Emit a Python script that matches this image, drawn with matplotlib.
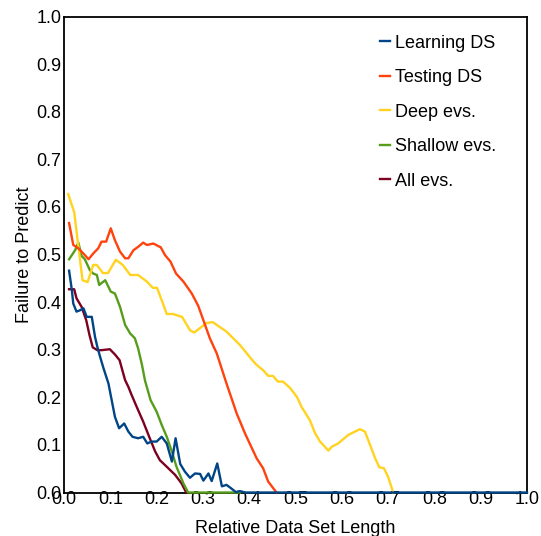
import matplotlib
matplotlib.use("Agg")
import matplotlib.pyplot as plt

plt.rcParams['font.family'] = ['Liberation Sans', 'DejaVu Sans']

# ---- data ----
learning_x = [0.011, 0.017, 0.020, 0.027, 0.035, 0.042, 0.049, 0.060, 0.067, 0.072, 0.078, 0.085,
              0.096, 0.103, 0.110, 0.119, 0.130, 0.139, 0.148, 0.160, 0.171, 0.180, 0.189, 0.200,
              0.211, 0.222, 0.233, 0.241, 0.251, 0.261, 0.272, 0.283, 0.294, 0.301, 0.312, 0.319,
              0.331, 0.341, 0.351, 0.362, 0.371, 0.380, 0.391, 1.0]
learning_y = [0.466, 0.425, 0.397, 0.380, 0.383, 0.387, 0.369, 0.369, 0.327, 0.306, 0.285, 0.262,
              0.229, 0.194, 0.159, 0.135, 0.145, 0.128, 0.117, 0.114, 0.117, 0.103, 0.107, 0.107,
              0.117, 0.103, 0.065, 0.114, 0.060, 0.044, 0.031, 0.040, 0.039, 0.025, 0.040, 0.024,
              0.061, 0.013, 0.016, 0.008, 0.001, 0.003, 0.0, 0.0]

testing_x = [0.011, 0.020, 0.031, 0.042, 0.053, 0.063, 0.074, 0.081, 0.091, 0.101, 0.110, 0.121,
             0.132, 0.139, 0.150, 0.160, 0.171, 0.179, 0.193, 0.209, 0.218, 0.230, 0.242, 0.258,
             0.276, 0.290, 0.301, 0.315, 0.330, 0.351, 0.373, 0.391, 0.402, 0.416, 0.430, 0.441,
             0.459]
testing_y = [0.566, 0.520, 0.513, 0.502, 0.490, 0.502, 0.513, 0.527, 0.527, 0.555, 0.530, 0.506,
             0.492, 0.492, 0.509, 0.516, 0.525, 0.520, 0.523, 0.515, 0.499, 0.485, 0.460, 0.443,
             0.418, 0.392, 0.362, 0.324, 0.292, 0.229, 0.166, 0.124, 0.101, 0.072, 0.051, 0.023,
             0.0]

deep_x = [0.009, 0.022, 0.040, 0.051, 0.063, 0.071, 0.084, 0.095, 0.112, 0.127, 0.143, 0.160,
          0.179, 0.192, 0.201, 0.222, 0.235, 0.255, 0.272, 0.281, 0.308, 0.321, 0.351, 0.380,
          0.405, 0.416, 0.430, 0.441, 0.451, 0.462, 0.473, 0.488, 0.503, 0.513, 0.531, 0.542,
          0.553, 0.571, 0.578, 0.592, 0.614, 0.639, 0.650, 0.661, 0.672, 0.681, 0.691, 0.700,
          0.711]
deep_y = [0.627, 0.589, 0.446, 0.442, 0.478, 0.478, 0.461, 0.461, 0.489, 0.478, 0.457, 0.457,
          0.443, 0.430, 0.430, 0.375, 0.375, 0.369, 0.341, 0.336, 0.356, 0.358, 0.338, 0.310,
          0.280, 0.268, 0.257, 0.245, 0.245, 0.233, 0.233, 0.220, 0.201, 0.180, 0.152, 0.125,
          0.107, 0.088, 0.096, 0.103, 0.121, 0.133, 0.128, 0.100, 0.072, 0.053, 0.051, 0.033,
          0.0]

shallow_x = [0.011, 0.024, 0.031, 0.038, 0.045, 0.056, 0.063, 0.071, 0.076, 0.089, 0.101, 0.110,
             0.121, 0.132, 0.143, 0.153, 0.160, 0.168, 0.175, 0.187, 0.200, 0.211, 0.222, 0.233,
             0.243, 0.258, 0.268, 0.380]
shallow_y = [0.490, 0.509, 0.525, 0.497, 0.490, 0.467, 0.460, 0.457, 0.436, 0.446, 0.422, 0.418,
             0.390, 0.352, 0.334, 0.324, 0.303, 0.270, 0.235, 0.194, 0.170, 0.142, 0.117, 0.086,
             0.054, 0.019, 0.0, 0.0]

all_x = [0.011, 0.022, 0.027, 0.038, 0.048, 0.055, 0.062, 0.072, 0.081, 0.099, 0.110, 0.120,
         0.132, 0.139, 0.146, 0.157, 0.171, 0.184, 0.197, 0.207, 0.222, 0.240, 0.254, 0.264]
all_y = [0.427, 0.427, 0.408, 0.390, 0.362, 0.331, 0.305, 0.299, 0.299, 0.301, 0.290, 0.278,
         0.236, 0.222, 0.205, 0.180, 0.149, 0.117, 0.086, 0.068, 0.054, 0.037, 0.019, 0.0]

labels = ["Learning DS", "Testing DS", "Deep evs.", "Shallow evs.", "All evs."]
colors = ["#004586", "#ff420e", "#ffd320", "#579d1c", "#7e0021"]
xticks = [0.0, 0.1, 0.2, 0.3, 0.4, 0.5, 0.6, 0.7, 0.8, 0.9, 1.0]
yticks = [0.0, 0.1, 0.2, 0.3, 0.4, 0.5, 0.6, 0.7, 0.8, 0.9, 1.0]

series = [(learning_x, learning_y), (testing_x, testing_y), (deep_x, deep_y),
          (shallow_x, shallow_y), (all_x, all_y)]

fig = plt.figure(figsize=(5.41, 5.36), dpi=100)
ax = fig.add_axes([64 / 541, 43.5 / 536, 463 / 541, 476 / 536])

handles = []
n = len(series)
for i, ((xs, ys), lab, col) in enumerate(zip(series, labels, colors)):
    h, = ax.plot(xs, ys, color=col, lw=1.7, label=lab, clip_on=False,
                 zorder=3 + (n - i) * 0.1)
    handles.append(h)

ax.set_xlim(0, 1)
ax.set_ylim(0, 1)
ax.set_xticks(xticks)
ax.set_yticks(yticks)
ax.set_xticklabels([f"{t:.1f}" for t in xticks])
ax.set_yticklabels([f"{t:.1f}" for t in yticks])
ax.tick_params(axis='both', length=0, labelsize=13)
ax.tick_params(axis='x', pad=-1)
ax.tick_params(axis='y', pad=2)
for s in ax.spines.values():
    s.set_linewidth(1.3)
    s.set_color('black')

ax.set_xlabel("Relative Data Set Length", fontsize=13)
ax.set_ylabel("Failure to Predict", fontsize=13)
ax.xaxis.set_label_coords(0.5, -0.058)
ax.yaxis.set_label_coords(-0.068, 0.5)

leg = ax.legend(handles=handles, labels=labels, loc='upper left',
                bbox_to_anchor=(0.682, 0.962), frameon=False, fontsize=13,
                handlelength=0.55, handletextpad=0.3, labelspacing=0.97,
                borderpad=0, borderaxespad=0)

fig.savefig("out.png", dpi=100)
